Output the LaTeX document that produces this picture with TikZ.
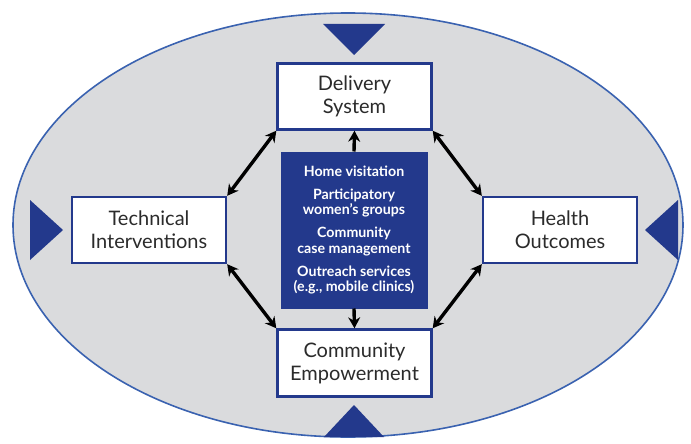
\documentclass[tikz,border=0pt]{standalone}
\usepackage{fontspec}
\setmainfont{Lato}
\usetikzlibrary{arrows.meta}
\definecolor{navy}{HTML}{23398C}
\definecolor{rimblue}{HTML}{3A62B0}
\definecolor{bggray}{HTML}{DADBDD}
\definecolor{txtgray}{HTML}{2B2B2B}
\begin{document}
\begin{tikzpicture}[x=1pt,y=-1pt]
        \tikzstyle{pillar}=[draw=navy, line width=2.4pt, fill=white, inner sep=0pt,
            minimum width=154pt, minimum height=66pt, align=center, text=txtgray,
            font=\fontsize{20}{23}\selectfont]
        \tikzstyle{link}=[black, line width=3.4pt, {Stealth[length=11pt,width=12pt]}-{Stealth[length=11pt,width=12pt]}]
        \tikzstyle{uplink}=[black, line width=3.4pt, -{Stealth[length=11pt,width=12pt]}]
        \useasboundingbox (0,0) rectangle (691,444);
        \draw [rimblue, fill=bggray, line width=1.6pt] (348,225) ellipse [x radius=335, y radius=212];
        % outer triangles
        \fill [navy] (323,24) -- (385,24) -- (354,55) -- cycle;
        \fill [navy] (324,437) -- (384,437) -- (354,405) -- cycle;
        \fill [navy] (30,200) -- (30,260) -- (63,230) -- cycle;
        \fill [navy] (678,200) -- (678,260) -- (645,230) -- cycle;
        % boxes
        \node [pillar] (del) at (354.5,96.5) {Delivery\\System};
        \node [pillar] (tech) at (149,230) {Technical\\Interventions};
        \node [pillar] (hlth) at (560,230) {Health\\Outcomes};
        \node [pillar, minimum height=67pt] (comm) at (354.5,363) {Community\\Empowerment};
        \node [fill=navy, draw=navy, line width=1pt, minimum width=146pt, minimum height=156pt,
            inner sep=0pt, align=center, text=white, font=\bfseries\fontsize{14.2}{15.5}\selectfont]
            (ctr) at (354,230) {Home visitation\\[7.5pt]Participatory\\women's groups\\[7.5pt]Community\\case management\\[7.5pt]Outreach services\\(e.g., mobile clinics)};
        % connectors
        \draw [link] (del.south west) -- (tech.north east);
        \draw [link] (del.south east) -- (hlth.north west);
        \draw [link] (comm.north west) -- (tech.south east);
        \draw [link] (comm.north east) -- (hlth.south west);
        \draw [uplink] (ctr.north) -- (del.south);
        \draw [uplink] (ctr.south) -- (comm.north);
    \end{tikzpicture}
\end{document}
